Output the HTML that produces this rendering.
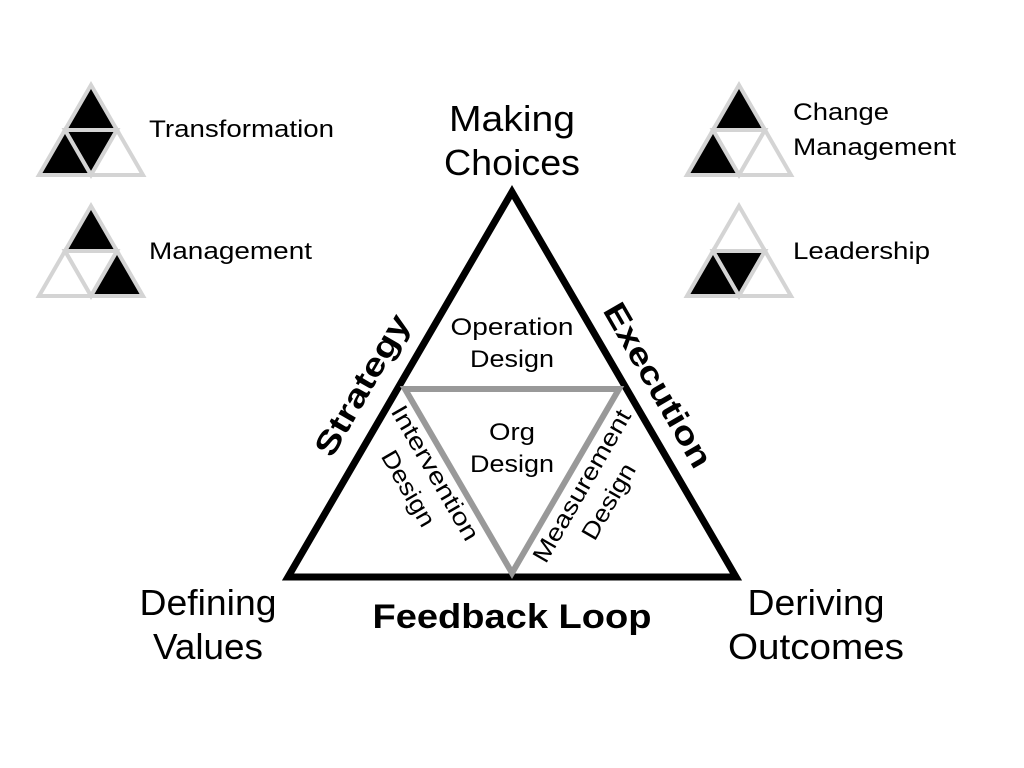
<!DOCTYPE html>
<html><head><meta charset="utf-8"><style>
html,body{margin:0;padding:0;background:#fff;}
svg{display:block;font-family:"Liberation Sans",Arial,sans-serif;}
</style></head><body>
<svg width="1024" height="768" viewBox="0 0 1024 768" xmlns="http://www.w3.org/2000/svg">
<rect width="1024" height="768" fill="#fff"/>
<g stroke="#d4d4d4" stroke-width="4" stroke-linejoin="miter">
 <g transform="translate(91,85)">
  <polygon points="0,0 -26,45 26,45" fill="#000"/>
  <polygon points="-26,45 26,45 0,90" fill="#000"/>
  <polygon points="-26,45 -52,90 0,90" fill="#000"/>
  <polygon points="26,45 0,90 52,90" fill="#fff"/>
 </g>
 <g transform="translate(91,206)">
  <polygon points="0,0 -26,45 26,45" fill="#000"/>
  <polygon points="-26,45 26,45 0,90" fill="#fff"/>
  <polygon points="-26,45 -52,90 0,90" fill="#fff"/>
  <polygon points="26,45 0,90 52,90" fill="#000"/>
 </g>
 <g transform="translate(739,85)">
  <polygon points="0,0 -26,45 26,45" fill="#000"/>
  <polygon points="-26,45 26,45 0,90" fill="#fff"/>
  <polygon points="-26,45 -52,90 0,90" fill="#000"/>
  <polygon points="26,45 0,90 52,90" fill="#fff"/>
 </g>
 <g transform="translate(739,206)">
  <polygon points="0,0 -26,45 26,45" fill="#fff"/>
  <polygon points="-26,45 26,45 0,90" fill="#000"/>
  <polygon points="-26,45 -52,90 0,90" fill="#000"/>
  <polygon points="26,45 0,90 52,90" fill="#fff"/>
 </g>
</g>
<g font-size="24" fill="#000" lengthAdjust="spacingAndGlyphs">
 <text x="149" y="137" textLength="185" lengthAdjust="spacingAndGlyphs">Transformation</text>
 <text x="149" y="259" textLength="163" lengthAdjust="spacingAndGlyphs">Management</text>
 <text x="793" y="120" textLength="96" lengthAdjust="spacingAndGlyphs">Change</text>
 <text x="793" y="155" textLength="163" lengthAdjust="spacingAndGlyphs">Management</text>
 <text x="793" y="259" textLength="137" lengthAdjust="spacingAndGlyphs">Leadership</text>
</g>
<polygon points="512,192 288,577 736,577" fill="none" stroke="#000" stroke-width="7" stroke-linejoin="miter"/>
<polygon points="405,389 619,389 512,573" fill="none" stroke="#999" stroke-width="6"/>
<g font-size="36" text-anchor="middle" fill="#000">
 <text x="512" y="131" textLength="126" lengthAdjust="spacingAndGlyphs">Making</text>
 <text x="512" y="175" textLength="136" lengthAdjust="spacingAndGlyphs">Choices</text>
 <text x="208" y="615" textLength="137" lengthAdjust="spacingAndGlyphs">Defining</text>
 <text x="208" y="659" textLength="110" lengthAdjust="spacingAndGlyphs">Values</text>
 <text x="816" y="615" textLength="137" lengthAdjust="spacingAndGlyphs">Deriving</text>
 <text x="816" y="659" textLength="176" lengthAdjust="spacingAndGlyphs">Outcomes</text>
</g>
<text x="512" y="628" font-size="34" font-weight="bold" text-anchor="middle" textLength="279" lengthAdjust="spacingAndGlyphs">Feedback Loop</text>
<text transform="translate(362,385) rotate(-60)" font-size="32" font-weight="bold" text-anchor="middle" dy="11" textLength="158" lengthAdjust="spacingAndGlyphs">Strategy</text>
<text transform="translate(658,385) rotate(60)" font-size="32" font-weight="bold" text-anchor="middle" dy="11" textLength="185" lengthAdjust="spacingAndGlyphs">Execution</text>
<g font-size="24" text-anchor="middle">
 <text x="512" y="335" textLength="123" lengthAdjust="spacingAndGlyphs">Operation</text>
 <text x="512" y="367" textLength="84" lengthAdjust="spacingAndGlyphs">Design</text>
 <text x="512" y="440" textLength="46" lengthAdjust="spacingAndGlyphs">Org</text>
 <text x="512" y="472" textLength="84" lengthAdjust="spacingAndGlyphs">Design</text>
 <g transform="translate(423,480) rotate(60)">
  <text x="0" y="-6" textLength="152" lengthAdjust="spacingAndGlyphs">Intervention</text>
  <text x="0" y="25" textLength="84" lengthAdjust="spacingAndGlyphs">Design</text>
 </g>
 <g transform="translate(594,493) rotate(-60)">
  <text x="0" y="-6" textLength="172" lengthAdjust="spacingAndGlyphs">Measurement</text>
  <text x="0" y="25" textLength="84" lengthAdjust="spacingAndGlyphs">Design</text>
 </g>
</g>
</svg>
</body></html>
